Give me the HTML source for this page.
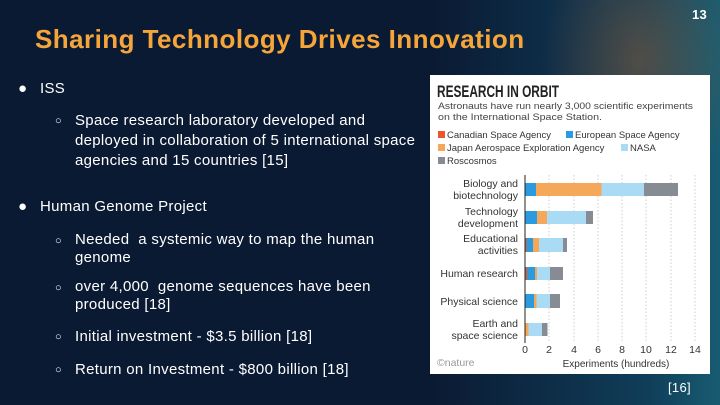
<!DOCTYPE html>
<html><head><meta charset="utf-8"><style>
*{margin:0;padding:0;box-sizing:border-box}
body{width:720px;height:405px;overflow:hidden;position:relative;background:#0b1a33;font-family:"Liberation Sans",sans-serif;color:#fff}
.bg{position:absolute;left:0;top:0;width:720px;height:405px;background:radial-gradient(ellipse 140px 200px at 640px 60px,rgba(200,110,40,.35),transparent 70%),linear-gradient(90deg,transparent 60%,rgba(20,90,120,.55) 90%,rgba(30,120,140,.7))}
.t{position:absolute;white-space:nowrap;font-size:15px;line-height:20px;letter-spacing:0.3px}
h1{position:absolute;left:35px;top:24px;font-size:26px;font-weight:bold;color:#f6a53a;white-space:nowrap;letter-spacing:0.45px}
.c{position:absolute;left:430px;top:75px;width:280px;height:299px;background:#fff}
</style></head><body>
<div class="bg"></div>
<h1>Sharing Technology Drives Innovation</h1>
<div class="t" style="left:692px;top:5px;font-weight:bold;font-size:13px">13</div>
<div class="t" style="left:18px;top:79px">●</div><div class="t" style="left:40px;top:79px">ISS</div>
<div class="t" style="left:55px;top:111px;font-size:11px">○</div>
<div class="t" style="left:75px;top:111px">Space research laboratory developed and<br>deployed in collaboration of 5 international space<br>agencies and 15 countries [15]</div>
<div class="t" style="left:18px;top:197px">●</div><div class="t" style="left:40px;top:197px">Human Genome Project</div>
<div class="t" style="left:55px;top:231px;font-size:11px">○</div>
<div class="t" style="left:75px;top:231px;line-height:18px">Needed &nbsp;a systemic way to map the human<br>genome</div>
<div class="t" style="left:55px;top:278px;font-size:11px">○</div>
<div class="t" style="left:75px;top:278px;line-height:18px">over 4,000 &nbsp;genome sequences have been<br>produced [18]</div>
<div class="t" style="left:55px;top:327px;font-size:11px">○</div>
<div class="t" style="left:75px;top:327px">Initial investment - $3.5 billion [18]</div>
<div class="t" style="left:55px;top:360px;font-size:11px">○</div>
<div class="t" style="left:75px;top:360px">Return on Investment - $800 billion [18]</div>
<div class="t" style="left:668px;top:378px;font-size:13px">[16]</div>
<div class="c"></div>
<svg width="720" height="405" style="position:absolute;left:0;top:0" font-family="Liberation Sans, sans-serif">
<text x="437" y="97" font-size="17" font-weight="bold" fill="#222" textLength="122" lengthAdjust="spacingAndGlyphs">RESEARCH IN ORBIT</text>
<text x="438" y="109" font-size="9.5" fill="#444" textLength="255" lengthAdjust="spacingAndGlyphs">Astronauts have run nearly 3,000 scientific experiments</text>
<text x="438" y="120" font-size="9.5" fill="#444" textLength="164" lengthAdjust="spacingAndGlyphs">on the International Space Station.</text>
<g font-size="9.5" fill="#333">
<rect x="438" y="131" width="7" height="7" fill="#e8582a"/><text x="447" y="138">Canadian Space Agency</text>
<rect x="566" y="131" width="7" height="7" fill="#2b9be0"/><text x="575" y="138">European Space Agency</text>
<rect x="438" y="144" width="7" height="7" fill="#f6a85a"/><text x="447" y="151">Japan Aerospace Exploration Agency</text>
<rect x="621" y="144" width="7" height="7" fill="#a9dbf5"/><text x="630" y="151">NASA</text>
<rect x="438" y="157" width="7" height="7" fill="#878c94"/><text x="447" y="164">Roscosmos</text>
</g>
<g stroke="#bbb" stroke-dasharray="1.5,2" stroke-width="0.7">
<line x1="549" y1="175" x2="549" y2="343"/><line x1="574" y1="175" x2="574" y2="343"/><line x1="598" y1="175" x2="598" y2="343"/><line x1="622" y1="175" x2="622" y2="343"/><line x1="646" y1="175" x2="646" y2="343"/><line x1="671" y1="175" x2="671" y2="343"/><line x1="695" y1="175" x2="695" y2="343"/>
</g>
<g>
<rect x="525" y="183" width="11" height="13" fill="#2b9be0"/><rect x="536" y="183" width="65.5" height="13" fill="#f6a85a"/><rect x="601.5" y="183" width="42.5" height="13" fill="#a9dbf5"/><rect x="644" y="183" width="34" height="13" fill="#878c94"/>
<rect x="525" y="211" width="12" height="13" fill="#2b9be0"/><rect x="537" y="211" width="10" height="13" fill="#f6a85a"/><rect x="547" y="211" width="39" height="13" fill="#a9dbf5"/><rect x="586" y="211" width="7" height="13" fill="#878c94"/>
<rect x="525" y="238" width="1.5" height="14" fill="#e8582a"/><rect x="526.5" y="238" width="6.5" height="14" fill="#2b9be0"/><rect x="533" y="238" width="6" height="14" fill="#f6a85a"/><rect x="539" y="238" width="24" height="14" fill="#a9dbf5"/><rect x="563" y="238" width="4" height="14" fill="#878c94"/>
<rect x="525" y="267" width="2" height="13" fill="#e8582a"/><rect x="527" y="267" width="8" height="13" fill="#2b9be0"/><rect x="535" y="267" width="2" height="13" fill="#f6a85a"/><rect x="537" y="267" width="13" height="13" fill="#a9dbf5"/><rect x="550" y="267" width="13" height="13" fill="#878c94"/>
<rect x="525" y="294" width="9" height="14" fill="#2b9be0"/><rect x="534" y="294" width="2.5" height="14" fill="#f6a85a"/><rect x="536.5" y="294" width="13.5" height="14" fill="#a9dbf5"/><rect x="550" y="294" width="10" height="14" fill="#878c94"/>
<rect x="525" y="323" width="3.5" height="13" fill="#f6a85a"/><rect x="528.5" y="323" width="13.5" height="13" fill="#a9dbf5"/><rect x="542" y="323" width="5.5" height="13" fill="#878c94"/>
</g>
<line x1="525" y1="175" x2="525" y2="343" stroke="#222" stroke-width="1"/>
<g font-size="10.5" fill="#333" text-anchor="end">
<text x="518" y="187">Biology and</text><text x="518" y="199">biotechnology</text>
<text x="518" y="215">Technology</text><text x="518" y="227">development</text>
<text x="518" y="242">Educational</text><text x="518" y="254">activities</text>
<text x="518" y="277">Human research</text>
<text x="518" y="305">Physical science</text>
<text x="518" y="327">Earth and</text><text x="518" y="339">space science</text>
</g>
<g font-size="10.5" fill="#333" text-anchor="middle">
<text x="525" y="353">0</text><text x="549" y="353">2</text><text x="574" y="353">4</text><text x="598" y="353">6</text><text x="622" y="353">8</text><text x="646" y="353">10</text><text x="671" y="353">12</text><text x="695" y="353">14</text>
<text x="616" y="367" font-size="10">Experiments (hundreds)</text>
</g>
<text x="437" y="366" font-size="10.5" fill="#999">©nature</text>
</svg>
</body></html>
